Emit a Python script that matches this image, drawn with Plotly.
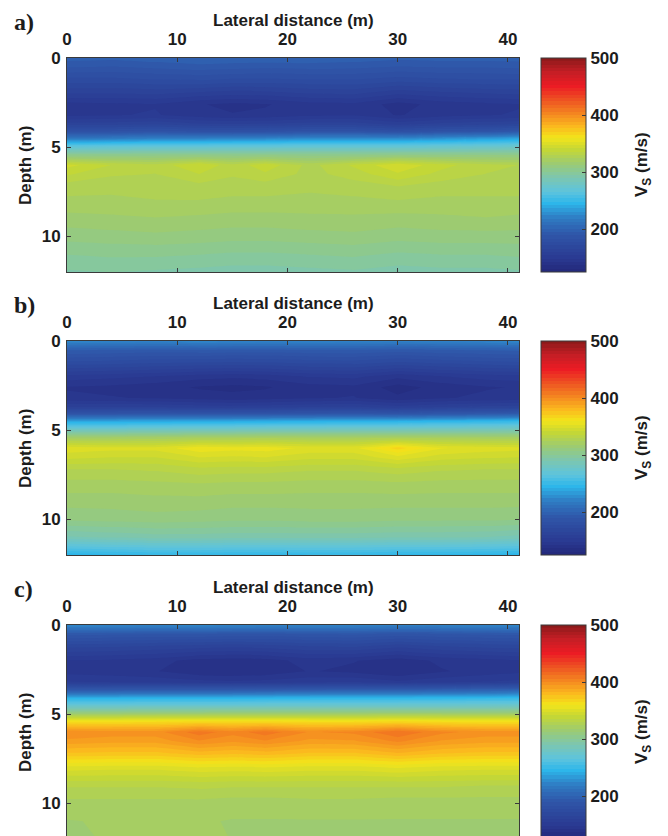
import plotly.graph_objects as go

# ---------------- data ----------------
lateral_x = [0, 4, 8, 12, 15, 18, 22, 26, 30, 34, 38, 41]
depth_rows = [0, 0.5, 1.2, 2, 2.6, 3.2, 3.7, 4.1, 4.5, 4.9, 5.4, 6.0, 6.5, 7.2, 8, 9, 10, 11, 12]

vs_a = [
    [198, 197, 199, 201, 200, 200, 200, 199, 197, 198, 198, 198],
    [190, 189, 191, 193, 192, 191, 192, 191, 189, 190, 190, 191],
    [176, 176, 178, 179, 177, 177, 178, 178, 175, 177, 178, 178],
    [160, 160, 161, 158, 156, 157, 160, 161, 155, 158, 160, 161],
    [146, 147, 148, 143, 141, 142, 146, 147, 140, 145, 147, 148],
    [147, 148, 149, 145, 143, 144, 147, 148, 142, 146, 148, 149],
    [163, 163, 165, 161, 160, 161, 163, 163, 158, 162, 164, 166],
    [183, 183, 185, 182, 181, 182, 184, 184, 180, 184, 186, 190],
    [215, 217, 220, 220, 221, 222, 224, 225, 224, 228, 232, 236],
    [262, 263, 264, 264, 265, 265, 266, 266, 266, 268, 270, 272],
    [302, 302, 303, 303, 303, 303, 303, 303, 304, 304, 305, 305],
    [344, 336, 332, 342, 332, 340, 328, 337, 347, 338, 332, 330],
    [337, 331, 330, 336, 331, 335, 328, 333, 341, 334, 330, 330],
    [327, 326, 327, 328, 327, 327, 326, 327, 330, 327, 327, 327],
    [323, 323, 324, 324, 323, 323, 322, 323, 324, 323, 323, 323],
    [316, 317, 318, 317, 316, 316, 317, 317, 316, 317, 318, 317],
    [309, 310, 311, 310, 309, 309, 310, 311, 309, 310, 310, 310],
    [301, 302, 302, 301, 300, 300, 301, 302, 300, 301, 301, 302],
    [294, 295, 294, 293, 292, 292, 293, 294, 292, 293, 293, 294],
]

vs_b = [
    [226, 225, 224, 226, 225, 224, 225, 224, 223, 224, 225, 226],
    [196, 195, 194, 195, 194, 194, 195, 195, 193, 195, 196, 197],
    [176, 175, 173, 172, 171, 172, 174, 175, 171, 174, 176, 177],
    [152, 150, 148, 145, 144, 145, 149, 150, 144, 148, 151, 152],
    [142, 141, 139, 136, 135, 136, 140, 141, 134, 139, 142, 143],
    [144, 143, 142, 140, 139, 140, 142, 143, 138, 142, 144, 145],
    [160, 160, 160, 158, 157, 158, 160, 161, 157, 160, 162, 163],
    [190, 190, 191, 190, 190, 190, 191, 192, 190, 193, 195, 197],
    [238, 238, 239, 240, 240, 241, 242, 243, 243, 245, 247, 249],
    [274, 274, 275, 276, 276, 277, 277, 278, 278, 279, 280, 281],
    [318, 318, 319, 321, 321, 322, 321, 321, 322, 321, 320, 320],
    [352, 350, 350, 358, 356, 357, 352, 352, 368, 354, 351, 350],
    [344, 342, 342, 348, 347, 348, 344, 344, 352, 345, 343, 342],
    [330, 330, 331, 334, 333, 333, 331, 331, 334, 331, 330, 330],
    [322, 322, 323, 324, 323, 323, 322, 322, 323, 322, 322, 322],
    [315, 315, 316, 316, 315, 315, 315, 315, 315, 315, 315, 315],
    [308, 309, 310, 309, 308, 308, 309, 309, 308, 308, 308, 307],
    [288, 290, 292, 292, 291, 291, 291, 291, 290, 290, 289, 287],
    [244, 246, 248, 248, 247, 247, 248, 248, 246, 246, 245, 244],
]

vs_c = [
    [226, 225, 224, 226, 225, 224, 225, 224, 223, 224, 225, 226],
    [192, 191, 190, 190, 189, 189, 190, 191, 188, 190, 191, 192],
    [168, 167, 165, 163, 162, 163, 166, 167, 162, 166, 168, 169],
    [148, 147, 145, 140, 139, 140, 145, 143, 139, 144, 146, 148],
    [146, 145, 143, 138, 137, 138, 143, 141, 137, 142, 145, 147],
    [155, 154, 153, 151, 150, 151, 153, 154, 150, 153, 155, 156],
    [198, 198, 199, 199, 199, 200, 201, 202, 202, 204, 206, 208],
    [243, 243, 244, 244, 244, 245, 246, 246, 246, 247, 248, 249],
    [272, 272, 273, 273, 273, 274, 274, 275, 275, 275, 276, 277],
    [308, 308, 309, 309, 310, 310, 310, 310, 311, 311, 311, 311],
    [362, 362, 363, 364, 364, 364, 363, 363, 365, 363, 362, 362],
    [400, 398, 398, 410, 403, 410, 400, 402, 412, 402, 398, 398],
    [393, 391, 391, 400, 396, 400, 393, 394, 402, 394, 391, 391],
    [376, 375, 375, 380, 378, 380, 376, 376, 382, 377, 375, 375],
    [351, 350, 350, 353, 352, 353, 351, 351, 354, 351, 350, 350],
    [331, 331, 331, 332, 331, 331, 331, 331, 331, 331, 330, 330],
    [322, 322, 322, 322, 321, 321, 322, 322, 321, 321, 321, 321],
    [318, 319, 320, 319, 318, 318, 318, 318, 318, 318, 318, 318],
    [317, 319, 324, 322, 318, 317, 317, 317, 317, 317, 317, 317],
]

panel_labels = ["a)", "b)", "c)"]
x_ticks = [0, 10, 20, 30, 40]
depth_ticks = [0, 5, 10]
cbar_ticks = [200, 300, 400, 500]
vs_min, vs_max = 125, 500

# ---------------- style ----------------
W, H = 668, 836
colorscale = [
    [0.000, "#23287a"], [0.067, "#2a3a92"], [0.173, "#2f55a8"],
    [0.253, "#2f7cc3"], [0.320, "#2db6ea"], [0.373, "#5cc4de"],
    [0.440, "#7cc6b0"], [0.507, "#9ccb72"], [0.573, "#c5d735"],
    [0.627, "#f2e51b"], [0.680, "#fbb91e"], [0.733, "#f58d20"],
    [0.800, "#ee5522"], [0.867, "#ec1c24"], [0.933, "#c51e25"],
    [1.000, "#8b1a1a"],
]
FONT = "Liberation Sans"
FS = 17
line_col = "#3a3a3a"
txt_col = "#1c1c1c"
level_step = (vs_max - vs_min) / 64

plot_left, plot_right = 67, 519
panel_tops = [58, 341, 625]
panel_h = 214
cb_left, cb_w = 541, 45

fig = go.Figure()
grids = [vs_a, vs_b, vs_c]

for i, (grid, top) in enumerate(zip(grids, panel_tops)):
    n = i + 1
    xa = "x" if n == 1 else f"x{n}"
    ya = "y" if n == 1 else f"y{n}"
    bottom = min(top + panel_h, H)
    depth_max = (bottom - top) / panel_h * 12
    fig.add_trace(go.Contour(
        x=lateral_x, y=depth_rows, z=grid,
        colorscale=colorscale, zmin=vs_min, zmax=vs_max, zauto=False,
        autocontour=False,
        contours=dict(start=vs_min, end=vs_max, size=level_step,
                      coloring="fill", showlines=False),
        line=dict(width=0, smoothing=0),
        xaxis=xa, yaxis=ya, hoverinfo="skip",
        colorbar=dict(
            x=cb_left / W, xanchor="left", xpad=0,
            y=1 - top / H, yanchor="top", ypad=0,
            len=panel_h / H, lenmode="fraction",
            thickness=cb_w, thicknessmode="pixels",
            outlinecolor=line_col, outlinewidth=1,
            tickvals=cbar_ticks, ticks="inside", ticklen=4, tickcolor=line_col,
            tickprefix="\u00a0",
            tickfont=dict(family=FONT, size=FS, color=txt_col, weight="bold"),
        ),
    ))
    xdom = [plot_left / W, plot_right / W]
    ydom = [1 - bottom / H, 1 - top / H]
    fig.update_layout(**{
        ("xaxis" if n == 1 else f"xaxis{n}"): dict(
            domain=xdom, anchor=ya, side="top", range=[0, 41],
            tickvals=x_ticks, ticks="inside", ticklen=4, tickcolor=line_col,
            ticklabelstandoff=5,
            showline=True, linecolor=line_col, linewidth=1,
            mirror="ticks" if n < 3 else False,
            showgrid=False, zeroline=False, fixedrange=True,
            tickfont=dict(family=FONT, size=FS, color=txt_col, weight="bold"),
        ),
        ("yaxis" if n == 1 else f"yaxis{n}"): dict(
            domain=ydom, anchor=xa, range=[depth_max, 0],
            tickvals=depth_ticks, ticks="inside", ticklen=4, tickcolor=line_col,
            ticklabelstandoff=2,
            showline=True, linecolor=line_col, linewidth=1, mirror="ticks",
            showgrid=False, zeroline=False, fixedrange=True,
            tickfont=dict(family=FONT, size=FS, color=txt_col, weight="bold"),
        ),
    })
    # titles and panel labels
    fig.add_annotation(x=(plot_left + plot_right) / 2 / W, y=1 - (top - 38) / H,
                       xref="paper", yref="paper", xanchor="center", yanchor="middle",
                       text="Lateral distance (m)", showarrow=False,
                       font=dict(family=FONT, size=FS, color=txt_col, weight="bold"))
    fig.add_annotation(x=25 / W, y=1 - (top + 107) / H,
                       xref="paper", yref="paper", xanchor="center", yanchor="middle",
                       text="Depth (m)", textangle=-90, showarrow=False,
                       font=dict(family=FONT, size=FS, color=txt_col, weight="bold"))
    fig.add_annotation(x=643 / W, y=1 - (top + 107) / H,
                       xref="paper", yref="paper", xanchor="center", yanchor="middle",
                       text="V<sub>S</sub> (m/s)", textangle=-90, showarrow=False,
                       font=dict(family=FONT, size=FS, color=txt_col, weight="bold"))
    fig.add_annotation(x=12 / W, y=1 - (top - 36) / H,
                       xref="paper", yref="paper", xanchor="left", yanchor="middle",
                       text=panel_labels[i], showarrow=False,
                       font=dict(family="Liberation Serif", size=24, color=txt_col, weight="bold"))

fig.update_layout(
    width=W, height=H, margin=dict(l=0, r=0, t=0, b=0, autoexpand=False),
    paper_bgcolor="white", plot_bgcolor="white", showlegend=False,
)

fig.write_html("out.html", config={"displayModeBar": False},
               post_script="document.body.style.margin='0';document.body.style.overflow='hidden';")
